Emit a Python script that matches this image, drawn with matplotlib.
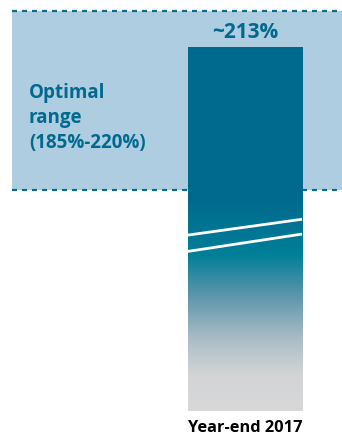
import matplotlib.pyplot as plt
import numpy as np
from matplotlib.colors import LinearSegmentedColormap
from matplotlib.transforms import ScaledTranslation

# data
category = ['Year-end 2017']
ratio = [213]
ratio_label = ['~213%']
optimal_low, optimal_high = 185, 220
range_label = 'Optimal\nrange\n(185%-220%)'

teal = '#006a8e'
band_color = '#aecde0'
dash_color = '#0b6c8e'

plt.rcParams['font.family'] = ['Open Sans', 'DejaVu Sans']
plt.rcParams['lines.scale_dashes'] = False

fig = plt.figure(figsize=(3.42, 4.36), dpi=100)
ax = fig.add_axes([0, 0, 1, 1])
ax.set_axis_off()

# broken axis: bar starts at an arbitrary base below the visible range
base = 141.7
width = 0.6

# optimal range band
ax.axhspan(optimal_low, optimal_high, xmin=12 / 342, xmax=1, color=band_color, lw=0, zorder=1)
for v in (optimal_low, optimal_high):
    ax.axhline(v, xmin=12 / 342, xmax=1, color=dash_color, lw=1.6,
               dashes=(3.6, 3.6), zorder=2)

# bar with gradient fill
bars = ax.bar(range(len(category)), [r - base for r in ratio], bottom=base,
              width=width, color='none', lw=0, zorder=3)
cmap = LinearSegmentedColormap.from_list('fade', [
    (0.0, '#d8d8d8'),
    (0.1, '#d2d4d6'),
    (0.2, '#a9bcc6'),
    (0.32, '#5a94aa'),
    (0.43, '#007f98'),
    (0.58, '#006a8e'),
    (1.0, '#006a8e'),
])
for i, b in enumerate(bars):
    grad = np.linspace(1, 0, 256).reshape(-1, 1)
    im = ax.imshow(grad, cmap=cmap, aspect='auto', zorder=3,
                   extent=(b.get_x(), b.get_x() + width, base, ratio[i]),
                   interpolation='bicubic')
    im.set_clip_path(b)
    ax.text(b.get_x() + width / 2, ratio[i], ratio_label[i], ha='center', va='center',
            fontsize=15, fontweight='bold', color=teal, zorder=5,
            transform=ax.transData + ScaledTranslation(0, 14 / 100, fig.dpi_scale_trans))
    # axis-break marks
    x0, x1 = b.get_x(), b.get_x() + width
    for ya, yb in ((176.1, 179.2), (172.9, 176.3)):
        ax.plot([x0, x1], [ya, yb], color='white', lw=2, zorder=4, solid_capstyle='butt')
    ax.text(b.get_x() + width / 2, 8 / 436, category[i], ha='center', va='center',
            fontsize=11.8, fontweight='bold', color='black',
            transform=ax.get_xaxis_transform())

ax.text(29 / 342, 1 - 83 / 436, range_label, ha='left', va='top', fontsize=13.5,
        fontweight='bold', color=teal, linespacing=1.32, transform=ax.transAxes, zorder=5)

ax.set_xlim(-1.289, 0.5105)
ax.set_ylim(136.7, 222.2)
fig.savefig('out.png', dpi=100)
